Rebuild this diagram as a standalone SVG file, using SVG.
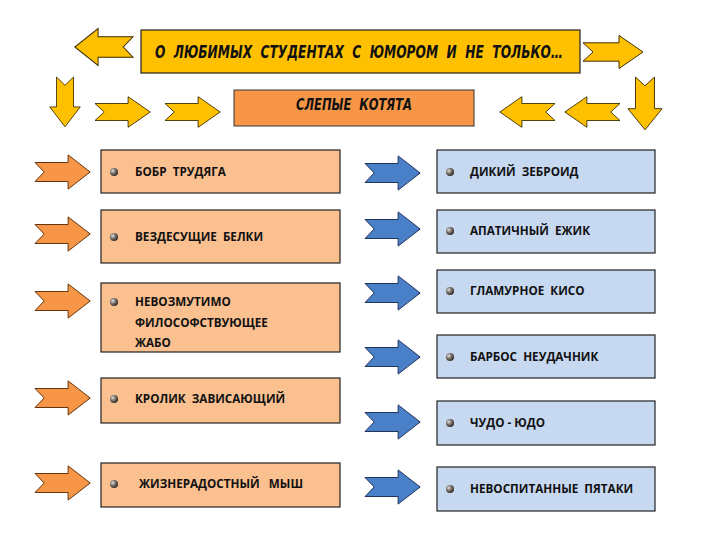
<svg xmlns="http://www.w3.org/2000/svg" width="720" height="540" viewBox="0 0 720 540">
<style>
.yarr{fill:#FFC000;stroke:#3a2a00;stroke-width:1}
.oarr{fill:#F79646;stroke:#5a2a00;stroke-width:1}
.barr{fill:#4A80C8;stroke:#1a2a50;stroke-width:1}
.lbox{fill:#FAC090;stroke:#222;stroke-width:1.2}
.rbox{fill:#C6D9F1;stroke:#222;stroke-width:1.2}
.lbl{font-family:"Open Sans","Liberation Sans",sans-serif;font-weight:700;font-size:11.7px;fill:#111;white-space:pre}
.ttl{font-family:"DejaVu Sans Condensed","DejaVu Sans",sans-serif;font-weight:700;font-style:italic;fill:#111;white-space:pre}
</style>
<defs>
<path id="arr" d="M0,-10 H36 V-18 L60,0 L36,18 V10 H0 L10,0 Z"/>
<radialGradient id="ball" cx="0.35" cy="0.35" r="0.7">
<stop offset="0" stop-color="#e0e0e0"/>
<stop offset="0.5" stop-color="#7a7068"/>
<stop offset="1" stop-color="#2a2520"/>
</radialGradient>
</defs>
<rect width="720" height="540" fill="#fff"/>

<g id="title">
<rect x="141" y="30" width="439" height="43" fill="#FFC000" stroke="#222" stroke-width="1.2"/>
<text class="ttl" x="155" y="58" font-size="17" textLength="408" lengthAdjust="spacingAndGlyphs">О  ЛЮБИМЫХ  СТУДЕНТАХ  С  ЮМОРОМ  И  НЕ  ТОЛЬКО…</text>
</g>
<g id="subtitle">
<rect x="234" y="90" width="240" height="36" fill="#F79646" stroke="#333" stroke-width="1"/>
<text class="ttl" x="296" y="110" font-size="15" textLength="116" lengthAdjust="spacingAndGlyphs">СЛЕПЫЕ  КОТЯТА</text>
</g>

<g id="arrows">
<use href="#arr" class="yarr" transform="translate(133,47) scale(-0.97,1.02)"/>
<use href="#arr" class="yarr" transform="translate(583,52) scale(1,0.92)"/>
<use href="#arr" class="yarr" transform="translate(65,77) rotate(90) scale(0.83,0.85)"/>
<use href="#arr" class="yarr" transform="translate(645,77) rotate(90) scale(0.88,0.95)"/>
<use href="#arr" class="yarr" transform="translate(95,112) scale(0.92,0.85)"/>
<use href="#arr" class="yarr" transform="translate(165,112) scale(0.92,0.85)"/>
<use href="#arr" class="yarr" transform="translate(555,112) scale(-0.92,0.85)"/>
<use href="#arr" class="yarr" transform="translate(620,112) scale(-0.92,0.85)"/>

<use href="#arr" class="oarr" transform="translate(35,172) scale(0.92,0.95)"/>
<use href="#arr" class="oarr" transform="translate(35,234) scale(0.92,0.95)"/>
<use href="#arr" class="oarr" transform="translate(35,301) scale(0.92,0.95)"/>
<use href="#arr" class="oarr" transform="translate(35,398) scale(0.92,0.95)"/>
<use href="#arr" class="oarr" transform="translate(35,483) scale(0.92,0.95)"/>

<use href="#arr" class="barr" transform="translate(365,173) scale(0.92,0.95)"/>
<use href="#arr" class="barr" transform="translate(365,229) scale(0.92,0.95)"/>
<use href="#arr" class="barr" transform="translate(365,293) scale(0.92,0.95)"/>
<use href="#arr" class="barr" transform="translate(365,357) scale(0.92,0.95)"/>
<use href="#arr" class="barr" transform="translate(365,422) scale(0.92,0.95)"/>
<use href="#arr" class="barr" transform="translate(365,487) scale(0.92,0.95)"/>
</g>

<g id="bobr">
<rect class="lbox" x="101" y="150" width="239" height="43"/>
<circle cx="114" cy="172" r="4" fill="url(#ball)"/>
<text class="lbl" x="135" y="176">БОБР  ТРУДЯГА</text>
</g>
<g id="belki">
<rect class="lbox" x="101" y="210" width="239" height="53"/>
<circle cx="114" cy="237" r="4" fill="url(#ball)"/>
<text class="lbl" x="135" y="241">ВЕЗДЕСУЩИЕ  БЕЛКИ</text>
</g>
<g id="zhabo">
<rect class="lbox" x="101" y="283" width="239" height="69"/>
<circle cx="114" cy="302" r="4" fill="url(#ball)"/>
<text class="lbl" x="135" y="306">НЕВОЗМУТИМО</text>
<text class="lbl" x="135" y="327">ФИЛОСОФСТВУЮЩЕЕ</text>
<text class="lbl" x="135" y="347">ЖАБО</text>
</g>
<g id="krolik">
<rect class="lbox" x="101" y="378" width="239" height="45"/>
<circle cx="114" cy="399" r="4" fill="url(#ball)"/>
<text class="lbl" x="135" y="403">КРОЛИК  ЗАВИСАЮЩИЙ</text>
</g>
<g id="mysh">
<rect class="lbox" x="101" y="463" width="239" height="44"/>
<circle cx="114" cy="484" r="4" fill="url(#ball)"/>
<text class="lbl" x="139" y="488">ЖИЗНЕРАДОСТНЫЙ   МЫШ</text>
</g>

<g id="zebroid">
<rect class="rbox" x="437" y="150" width="218" height="43"/>
<circle cx="450" cy="172" r="4" fill="url(#ball)"/>
<text class="lbl" x="470" y="176">ДИКИЙ  ЗЕБРОИД</text>
</g>
<g id="ezhik">
<rect class="rbox" x="437" y="210" width="218" height="43"/>
<circle cx="450" cy="231" r="4" fill="url(#ball)"/>
<text class="lbl" x="470" y="235">АПАТИЧНЫЙ  ЕЖИК</text>
</g>
<g id="kiso">
<rect class="rbox" x="437" y="270" width="218" height="43"/>
<circle cx="450" cy="291" r="4" fill="url(#ball)"/>
<text class="lbl" x="470" y="295">ГЛАМУРНОЕ  КИСО</text>
</g>
<g id="barbos">
<rect class="rbox" x="437" y="335" width="218" height="43"/>
<circle cx="450" cy="357" r="4" fill="url(#ball)"/>
<text class="lbl" x="470" y="361">БАРБОС  НЕУДАЧНИК</text>
</g>
<g id="chudo">
<rect class="rbox" x="437" y="401" width="218" height="44"/>
<circle cx="450" cy="423" r="4" fill="url(#ball)"/>
<text class="lbl" x="470" y="427">ЧУДО - ЮДО</text>
</g>
<g id="pyataki">
<rect class="rbox" x="437" y="467" width="218" height="44"/>
<circle cx="450" cy="489" r="4" fill="url(#ball)"/>
<text class="lbl" x="470" y="493">НЕВОСПИТАННЫЕ  ПЯТАКИ</text>
</g>
</svg>
